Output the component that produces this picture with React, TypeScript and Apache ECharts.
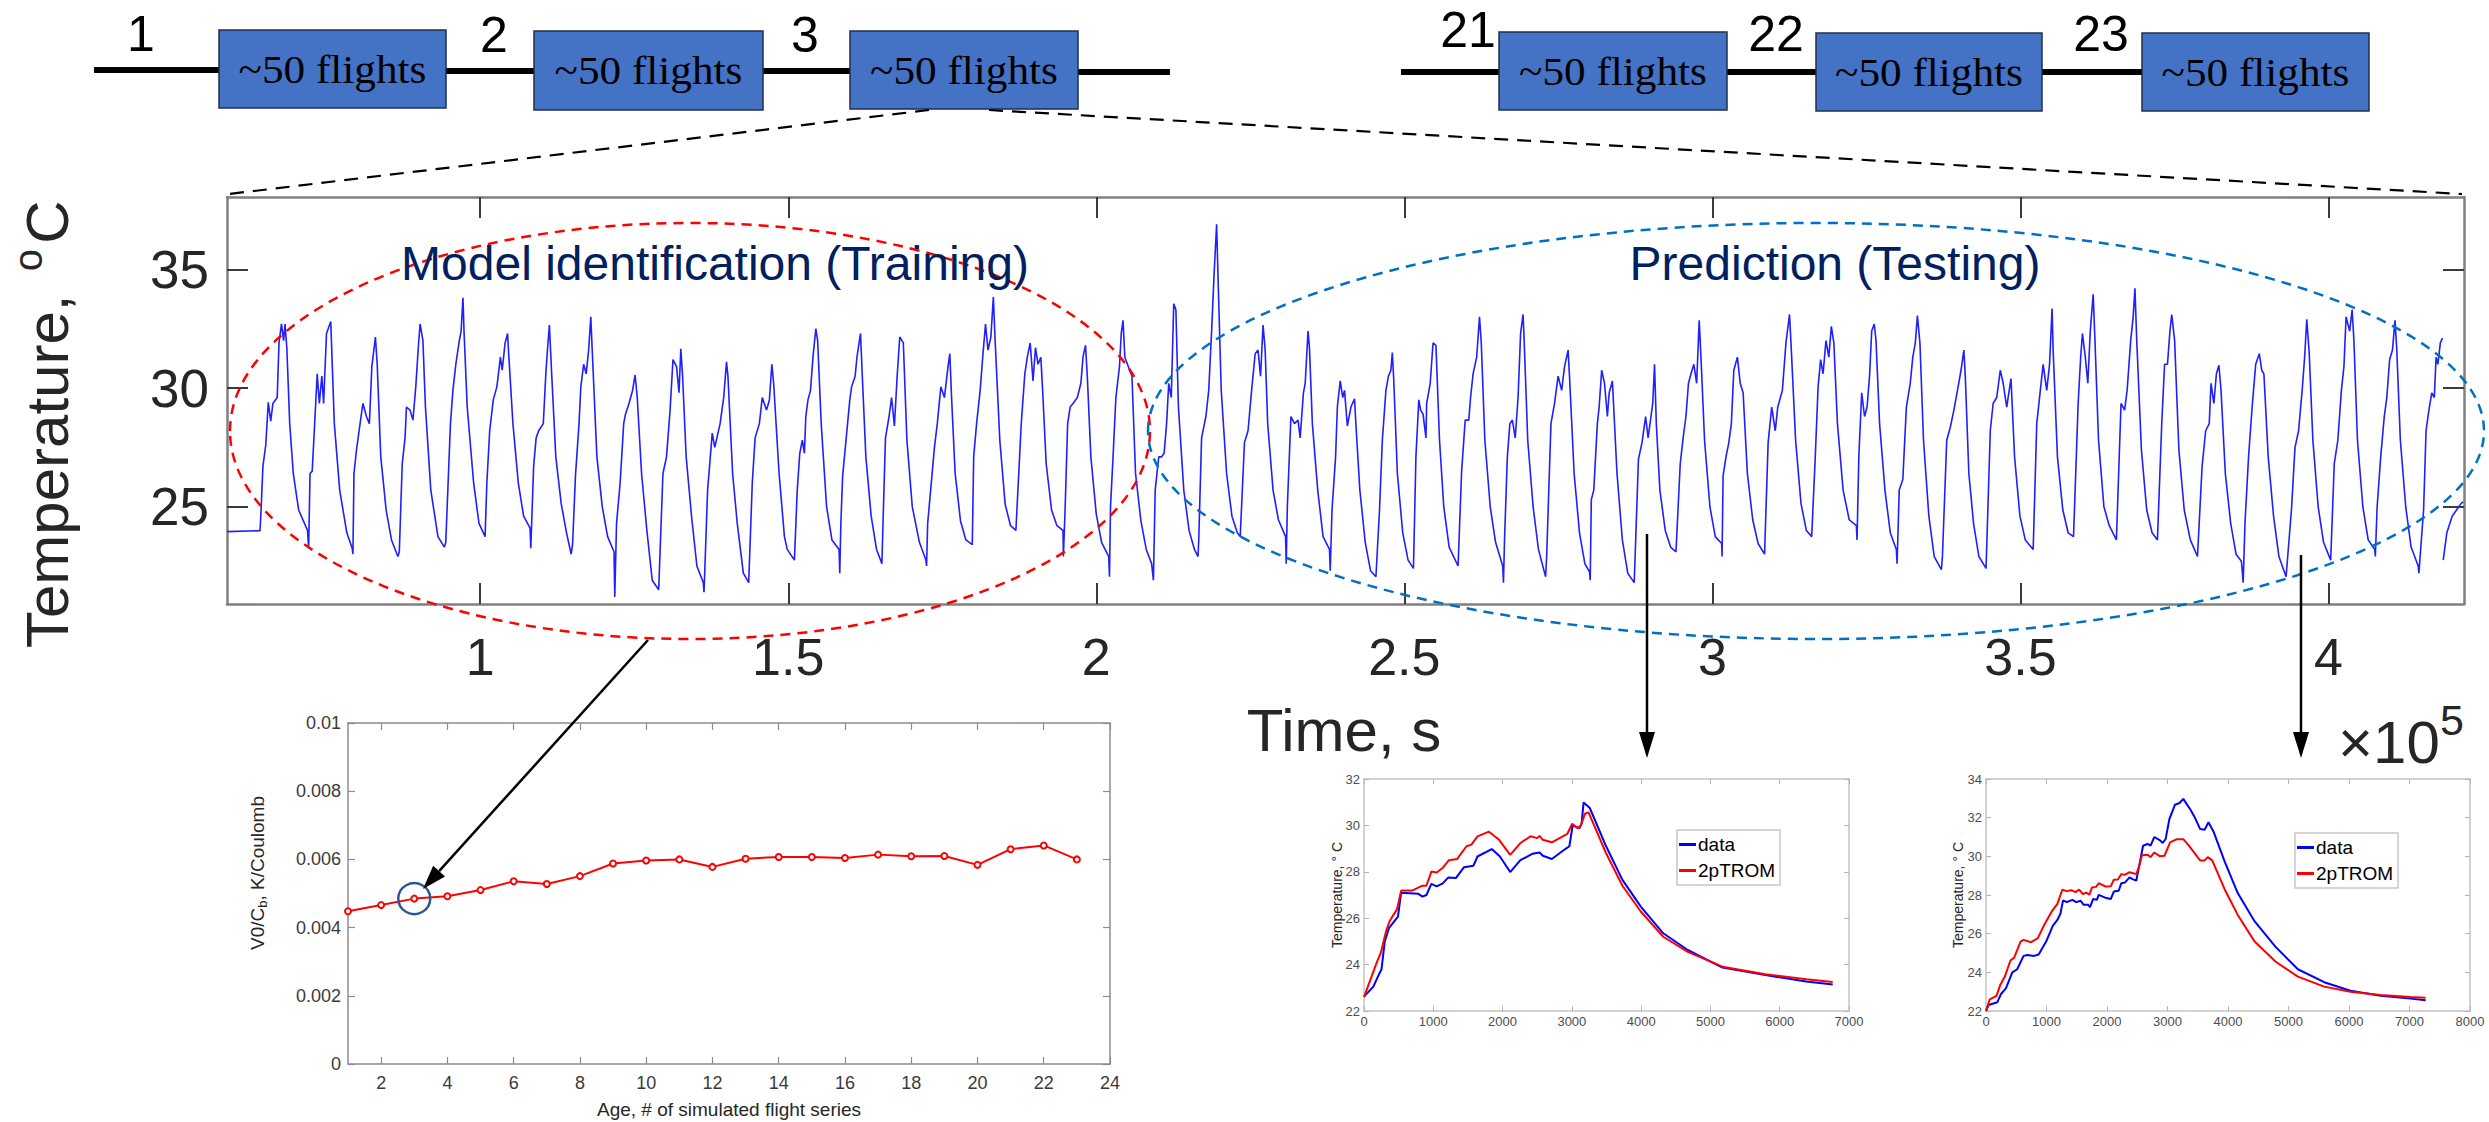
import React, { useEffect, useRef } from 'react';
import * as echarts from 'echarts';

const SANS = '"Liberation Sans", Arial, Helvetica, sans-serif';
const SERIF = '"Liberation Serif", "Times New Roman", serif';

// ---- main temperature record (time in 1e5 s, temperature in °C) ----
const MAIN_TEMP: [number, number][] = [
  [0.5893,23.95],[0.6426,23.99],[0.6444,24.9],[0.6473,26.7],[0.6519,27.6],[0.6560,29.4],[0.6600,28.6],[0.6635,29.35],[0.6705,29.6],[0.6734,31.9],[0.6774,32.7],[0.6809,32.0],[0.6832,32.7],[0.6861,31.7],[0.6908,28.5],[0.6966,26.4],[0.7053,24.86],[0.7197,24.0],
  [0.7215,23.25],[0.7238,26.4],[0.7273,26.5],[0.7313,28.5],[0.7354,30.6],[0.7389,29.35],[0.7429,30.5],[0.7458,29.35],[0.7505,32.3],[0.7574,32.8],[0.7632,28.5],[0.7719,25.7],[0.7835,23.9],[0.7922,23.25],[0.7934,23.0],
  [0.7951,26.4],[0.7992,27.4],[0.8050,28.5],[0.8096,29.35],[0.8154,28.8],[0.8201,28.5],[0.8241,30.9],[0.8299,32.15],[0.8328,31.0],[0.8386,27.1],[0.8473,24.86],[0.8560,23.6],[0.8664,22.9],
  [0.8687,23.1],[0.8734,26.8],[0.8780,27.9],[0.8803,29.2],[0.8861,29.07],[0.8908,28.65],[0.8954,30.05],[0.8995,31.7],[0.9024,32.7],[0.9070,32.0],[0.9111,29.2],[0.9198,25.7],[0.9314,23.74],[0.9418,23.3],
  [0.9441,23.5],[0.9517,28.5],[0.9557,29.9],[0.9604,31.0],[0.9661,32.0],[0.9690,32.4],[0.9720,33.8],[0.9737,32.4],[0.9789,29.2],[0.9893,26.0],[0.9980,24.3],[1.0079,23.74],
  [1.0108,26.0],[1.0154,28.2],[1.0212,29.5],[1.0270,30.05],[1.0328,31.3],[1.0357,30.75],[1.0404,31.9],[1.0444,32.3],[1.0462,31.45],[1.0531,28.5],[1.0618,26.0],[1.0705,24.6],[1.0809,24.1],
  [1.0821,23.25],[1.0867,26.7],[1.0908,27.9],[1.0949,28.2],[1.1024,28.5],[1.1065,30.6],[1.1094,31.7],[1.1123,32.65],[1.1157,30.75],[1.1227,27.1],[1.1314,25.14],[1.1401,23.9],[1.1476,23.0],
  [1.1499,23.4],[1.1546,26.3],[1.1604,28.5],[1.1633,30.05],[1.1679,31.0],[1.1720,30.6],[1.1760,31.6],[1.1795,33.0],[1.1818,31.6],[1.1894,27.1],[1.1981,25.0],[1.2068,23.74],[1.2172,23.1],
  [1.2184,21.2],[1.2213,24.3],[1.2271,26.0],[1.2329,28.5],[1.2358,28.9],[1.2415,29.35],[1.2473,29.9],[1.2514,30.55],[1.2549,29.6],[1.2619,26.4],[1.2705,24.0],[1.2792,21.9],[1.2897,21.5],
  [1.2966,26.4],[1.3024,27.1],[1.3082,29.07],[1.3129,31.2],[1.3187,30.9],[1.3227,29.8],[1.3256,31.65],[1.3285,30.5],[1.3343,27.1],[1.3430,24.6],[1.3517,22.5],[1.3621,21.8],
  [1.3633,21.4],[1.3691,25.7],[1.3766,28.1],[1.3807,27.5],[1.3894,28.5],[1.3952,29.6],[1.3998,31.1],[1.4021,30.5],[1.4097,26.4],[1.4172,24.3],[1.4271,22.2],[1.4358,21.8],
  [1.4416,26.0],[1.4462,27.9],[1.4531,28.5],[1.4578,29.6],[1.4647,29.07],[1.4694,29.5],[1.4734,31.0],[1.4763,30.2],[1.4851,26.4],[1.4938,23.74],[1.4984,23.2],[1.5100,22.75],
  [1.5146,25.7],[1.5187,27.25],[1.5228,27.8],[1.5262,27.25],[1.5285,28.8],[1.5320,29.5],[1.5361,29.9],[1.5401,31.3],[1.5448,32.5],[1.5477,32.0],[1.5535,28.5],[1.5622,25.0],[1.5709,23.6],[1.5825,23.2],[1.5836,22.2],
  [1.5854,24.3],[1.5883,26.3],[1.5941,27.9],[1.5999,29.5],[1.6028,30.05],[1.6086,30.5],[1.6115,31.3],[1.6173,32.3],[1.6202,30.5],[1.6260,27.1],[1.6346,24.6],[1.6433,23.2],[1.6520,22.6],
  [1.6538,24.3],[1.6578,27.9],[1.6636,28.8],[1.6677,29.6],[1.6723,28.4],[1.6770,30.6],[1.6810,32.15],[1.6868,31.9],[1.6926,27.8],[1.7013,25.0],[1.7129,23.5],[1.7234,22.75],[1.7245,22.5],
  [1.7263,24.3],[1.7332,26.3],[1.7373,27.5],[1.7419,28.5],[1.7477,30.05],[1.7535,29.6],[1.7593,30.9],[1.7622,31.45],[1.7651,29.6],[1.7709,26.4],[1.7796,24.4],[1.7883,23.6],[1.7987,23.4],
  [1.8010,27.1],[1.8057,28.5],[1.8115,29.9],[1.8161,31.45],[1.8202,32.7],[1.8242,31.6],[1.8289,32.15],[1.8329,33.84],[1.8358,32.0],[1.8434,27.8],[1.8521,25.1],[1.8608,24.2],[1.8695,24.0],
  [1.8782,28.5],[1.8840,30.6],[1.8880,31.3],[1.8927,31.9],[1.8973,30.3],[1.9013,31.7],[1.9054,31.0],[1.9100,31.3],[1.9129,29.9],[1.9187,26.8],[1.9274,24.86],[1.9361,24.2],[1.9460,24.0],[1.9466,22.9],
  [1.9495,25.0],[1.9535,28.5],[1.9576,29.2],[1.9622,29.35],[1.9692,29.6],[1.9750,30.2],[1.9784,31.3],[1.9825,31.8],[1.9854,30.5],[1.9912,27.1],[1.9999,24.7],[2.0086,23.5],[2.0202,22.9],[2.0214,22.05],
  [2.0231,25.0],[2.0272,27.1],[2.0318,29.6],[2.0376,30.9],[2.0405,32.3],[2.0434,32.85],[2.0463,31.3],[2.0521,30.9],[2.0579,30.5],[2.0637,26.4],[2.0724,24.4],[2.0811,23.2],[2.0898,22.6],[2.0927,21.9],
  [2.0956,25.7],[2.1014,27.1],[2.1060,27.1],[2.1101,27.25],[2.1141,28.5],[2.1176,30.2],[2.1217,29.6],[2.1257,33.55],[2.1292,33.3],[2.1333,29.2],[2.1420,25.7],[2.1506,24.0],[2.1593,23.2],[2.1651,22.9],
  [2.1663,23.6],[2.1709,27.9],[2.1779,28.8],[2.1825,29.9],[2.1872,32.4],[2.1912,34.8],[2.1953,36.9],[2.1982,34.1],[2.2028,29.9],[2.2115,26.4],[2.2202,24.6],[2.2289,23.9],[2.2336,23.74],
  [2.2405,27.7],[2.2463,28.2],[2.2521,29.9],[2.2579,31.45],[2.2625,31.6],[2.2666,30.5],[2.2707,32.65],[2.2741,31.6],[2.2782,28.5],[2.2869,25.7],[2.2956,24.45],[2.3072,23.74],[2.3083,22.6],
  [2.3101,25.0],[2.3159,28.8],[2.3217,28.5],[2.3275,28.65],[2.3309,27.9],[2.3362,29.8],[2.3391,30.2],[2.3437,32.4],[2.3460,31.7],[2.3507,28.5],[2.3594,25.7],[2.3681,23.74],[2.3785,23.2],[2.3797,22.3],
  [2.3826,24.86],[2.3884,27.1],[2.3913,29.2],[2.3959,30.3],[2.4000,29.6],[2.4029,29.9],[2.4075,28.4],[2.4133,29.2],[2.4191,29.55],[2.4220,28.2],[2.4278,25.7],[2.4365,23.5],[2.4452,22.3],[2.4539,22.05],
  [2.4597,24.86],[2.4643,27.8],[2.4701,29.9],[2.4742,30.5],[2.4782,30.75],[2.4805,31.5],[2.4829,30.3],[2.4887,26.4],[2.4974,23.9],[2.5061,22.75],[2.5148,22.4],
  [2.5188,27.1],[2.5235,29.5],[2.5264,29.07],[2.5304,28.9],[2.5351,27.9],[2.5362,29.35],[2.5420,30.2],[2.5466,31.9],[2.5513,31.8],[2.5571,27.8],[2.5640,25.0],[2.5727,23.3],[2.5872,22.5],
  [2.5930,26.5],[2.5988,28.65],[2.6046,28.65],[2.6075,29.6],[2.6116,30.6],[2.6174,31.3],[2.6220,33.0],[2.6249,31.9],[2.6307,27.8],[2.6394,25.0],[2.6481,23.5],[2.6597,22.5],[2.6609,21.8],
  [2.6626,23.6],[2.6672,27.1],[2.6713,28.5],[2.6754,28.65],[2.6800,27.9],[2.6846,29.6],[2.6887,32.3],[2.6927,33.1],[2.6945,32.0],[2.7003,27.8],[2.7090,25.0],[2.7177,23.2],[2.7293,22.05],
  [2.7310,22.9],[2.7380,28.5],[2.7438,29.35],[2.7496,30.5],[2.7554,29.9],[2.7600,30.9],[2.7658,31.6],[2.7681,30.5],[2.7756,26.4],[2.7843,23.9],[2.7930,22.6],[2.8006,22.25],[2.8017,21.9],
  [2.8035,25.3],[2.8075,25.7],[2.8133,28.5],[2.8162,29.2],[2.8203,30.75],[2.8249,30.2],[2.8296,28.8],[2.8325,29.8],[2.8377,30.3],[2.8452,26.4],[2.8539,23.6],[2.8626,22.2],[2.8731,21.8],
  [2.8742,22.6],[2.8800,27.0],[2.8858,27.7],[2.8916,28.8],[2.8957,27.9],[2.9003,28.8],[2.9032,29.35],[2.9061,31.0],[2.9090,28.5],[2.9148,25.7],[2.9235,24.0],[2.9322,23.3],[2.9409,23.1],
  [2.9478,26.8],[2.9525,27.9],[2.9571,28.8],[2.9612,30.2],[2.9653,30.6],[2.9699,31.0],[2.9745,30.2],[2.9786,32.85],[2.9815,31.3],[2.9873,27.8],[2.9960,25.0],[3.0047,23.74],[3.0151,23.45],[3.0157,22.9],
  [3.0174,26.3],[3.0221,27.1],[3.0267,27.7],[3.0308,28.5],[3.0348,30.75],[3.0406,31.3],[3.0452,30.2],[3.0499,29.8],[3.0568,26.4],[3.0655,24.45],[3.0742,23.45],[3.0847,23.0],
  [3.0905,27.7],[3.0963,29.2],[3.1021,28.2],[3.1061,29.2],[3.1136,29.9],[3.1194,31.9],[3.1252,33.1],[3.1276,31.9],[3.1351,27.8],[3.1438,25.14],[3.1525,24.0],[3.1612,23.74],
  [3.1670,27.1],[3.1716,30.05],[3.1757,31.2],[3.1797,30.6],[3.1844,32.0],[3.1890,31.3],[3.1931,32.6],[3.1972,31.9],[3.2030,28.5],[3.2122,25.7],[3.2221,24.45],[3.2337,24.2],[3.2348,23.6],
  [3.2377,27.1],[3.2424,29.8],[3.2470,28.8],[3.2511,29.2],[3.2551,30.5],[3.2586,32.4],[3.2627,32.7],[3.2656,32.0],[3.2714,28.5],[3.2801,25.7],[3.2888,23.9],[3.2986,23.2],[3.2998,22.6],
  [3.3033,25.7],[3.3091,26.15],[3.3149,29.2],[3.3212,30.2],[3.3253,31.3],[3.3294,31.9],[3.3328,33.05],[3.3369,31.9],[3.3427,27.8],[3.3514,24.6],[3.3601,22.9],[3.3717,22.35],
  [3.3734,22.9],[3.3804,27.8],[3.3862,28.35],[3.3920,29.07],[3.3978,29.9],[3.4036,30.75],[3.4082,31.6],[3.4105,30.5],[3.4163,26.4],[3.4239,24.3],[3.4326,22.9],[3.4442,22.4],
  [3.4511,28.2],[3.4557,29.35],[3.4615,29.6],[3.4673,30.75],[3.4720,30.2],[3.4778,29.2],[3.4818,29.9],[3.4847,30.4],[3.4905,27.1],[3.4992,24.6],[3.5079,23.6],[3.5207,23.2],
  [3.5265,28.5],[3.5323,29.9],[3.5369,31.0],[3.5427,29.9],[3.5473,31.0],[3.5514,33.35],[3.5531,31.6],[3.5601,27.1],[3.5688,24.86],[3.5775,23.9],[3.5862,23.74],
  [3.5937,29.35],[3.5978,31.3],[3.6007,32.3],[3.6053,31.3],[3.6094,30.2],[3.6134,32.4],[3.6181,33.95],[3.6210,32.0],[3.6268,27.8],[3.6355,25.0],[3.6442,24.2],[3.6558,23.6],
  [3.6633,29.35],[3.6691,29.07],[3.6732,29.9],[3.6790,32.0],[3.6830,33.0],[3.6859,34.2],[3.6888,32.0],[3.6964,27.4],[3.7050,24.86],[3.7137,23.9],[3.7224,23.6],
  [3.7294,28.5],[3.7340,31.0],[3.7387,31.0],[3.7427,32.4],[3.7456,33.1],[3.7503,32.0],[3.7572,27.4],[3.7659,24.86],[3.7758,23.6],[3.7874,22.9],
  [3.7949,26.7],[3.8007,28.2],[3.8065,28.5],[3.8094,30.2],[3.8140,29.35],[3.8181,30.6],[3.8222,30.96],[3.8256,29.9],[3.8326,26.4],[3.8413,24.3],[3.8500,23.0],[3.8587,22.7],[3.8616,21.8],
  [3.8645,24.3],[3.8703,27.1],[3.8761,29.2],[3.8819,31.0],[3.8877,31.45],[3.8917,30.75],[3.8952,30.6],[3.9022,27.1],[3.9109,24.6],[3.9196,22.9],[3.9312,22.05],
  [3.9399,24.86],[3.9457,27.5],[3.9515,28.2],[3.9573,29.9],[3.9613,31.3],[3.9648,32.9],[3.9688,31.45],[3.9747,27.8],[3.9833,25.0],[3.9920,23.5],[4.0036,22.75],
  [4.0094,26.8],[4.0152,27.8],[4.0210,29.9],[4.0251,30.9],[4.0286,33.0],[4.0344,32.4],[4.0384,33.3],[4.0413,32.0],[4.0471,27.8],[4.0558,25.0],[4.0645,23.6],[4.0750,23.2],[4.0761,22.9],
  [4.0790,25.0],[4.0848,27.1],[4.0906,28.8],[4.0947,29.6],[4.0993,31.2],[4.1039,31.6],[4.1080,32.85],[4.1109,31.6],[4.1167,27.8],[4.1254,25.0],[4.1341,23.3],[4.1457,22.5],[4.1468,22.2],
  [4.1544,24.86],[4.1584,28.2],[4.1630,29.07],[4.1677,29.8],[4.1718,29.6],[4.1747,31.3],[4.1776,31.0],[4.1816,31.9],[4.1851,32.1],
];
const MAIN_TEMP_TAIL: [number, number][] = [
  [4.1863,22.75],[4.1921,23.9],[4.2008,24.6],[4.2153,25.14],[4.2188,25.2],
];
const MAIN_X_TICKS = [1, 1.5, 2, 2.5, 3, 3.5, 4];
const MAIN_Y_TICKS = [25, 30, 35];

// ---- V0/Cb vs age ----
const AGE = [1,2,3,4,5,6,7,8,9,10,11,12,13,14,15,16,17,18,19,20,21,22,23];
const V0_CB = [0.00448,0.00466,0.00485,0.00492,0.0051,0.00536,0.00528,0.00551,0.00588,0.00597,0.006,0.00578,0.00602,0.00607,0.00607,0.00604,0.00614,0.00609,0.0061,0.00584,0.0063,0.00641,0.006];
const AGE_TICKS = [2,4,6,8,10,12,14,16,18,20,22,24];

// ---- flight A (time s, temperature °C) ----
const FLIGHT_A_DATA: [number, number][] = [
  [0,22.62],[135,23.05],[224,23.63],[253,23.8],[300,25.0],[360,25.57],[490,26.07],[536,27.1],[784,27.05],[843,26.93],[901,27.0],[972,27.48],[1049,27.37],[1137,27.5],[1214,27.75],[1326,27.73],[1444,28.2],[1579,28.26],[1638,28.66],[1844,28.98],[1962,28.66],[2110,27.99],[2257,28.5],[2434,28.78],[2534,28.83],[2581,28.69],[2711,28.55],[2905,28.98],[2964,29.1],[3011,29.99],[3111,29.88],[3141,30.1],[3170,30.99],[3259,30.75],[3494,29.1],[3730,27.65],[3995,26.5],[4319,25.35],[4673,24.63],[5174,23.87],[5793,23.55],[6382,23.27],[6765,23.14],
];
const FLIGHT_A_TROM: [number, number][] = [
  [0,22.6],[194,24.17],[242,24.5],[324,25.5],[371,25.88],[477,26.39],[536,27.19],[695,27.19],[843,27.4],[900,27.4],[972,28.01],[1049,27.97],[1130,28.15],[1226,28.5],[1343,28.55],[1479,29.1],[1550,29.17],[1638,29.53],[1803,29.73],[1950,29.38],[2110,28.73],[2257,29.24],[2404,29.53],[2500,29.45],[2534,29.55],[2581,29.38],[2711,29.27],[2935,29.64],[3005,30.07],[3082,29.88],[3130,30.0],[3188,30.5],[3241,30.56],[3494,28.8],[3730,27.4],[3995,26.29],[4319,25.2],[4673,24.55],[5174,23.91],[5793,23.58],[6382,23.37],[6765,23.25],
];
// ---- flight B ----
const FLIGHT_B_DATA: [number, number][] = [
  [0,22.0],[43,22.31],[186,22.45],[248,22.88],[329,23.17],[435,24.0],[516,24.16],[621,24.85],[683,24.9],[795,24.85],[870,24.92],[994,25.59],[1106,26.42],[1180,26.71],[1230,27.03],[1273,27.72],[1335,27.63],[1429,27.75],[1491,27.63],[1565,27.7],[1615,27.49],[1689,27.49],[1720,27.37],[1770,27.79],[1832,27.75],[1863,28.01],[1988,27.84],[2062,27.79],[2112,28.18],[2193,28.22],[2236,28.61],[2298,28.65],[2373,28.91],[2422,28.82],[2484,28.74],[2596,30.55],[2671,30.64],[2720,30.55],[2783,31.0],[2876,30.83],[2919,30.69],[2969,30.89],[3031,31.93],[3124,32.67],[3199,32.76],[3261,32.97],[3385,32.38],[3447,32.04],[3540,31.41],[3615,31.38],[3677,31.76],[3758,31.3],[3944,29.74],[4161,28.1],[4441,26.63],[4783,25.33],[5155,24.16],[5590,23.49],[6025,23.05],[6522,22.79],[7019,22.64],[7267,22.55],
];
const FLIGHT_B_TROM: [number, number][] = [
  [0,22.0],[62,22.6],[174,22.78],[236,23.35],[311,23.78],[404,24.61],[466,24.76],[571,25.59],[621,25.68],[745,25.56],[857,25.77],[963,26.46],[1087,27.15],[1180,27.54],[1261,28.27],[1335,28.2],[1410,28.25],[1480,28.15],[1540,28.28],[1602,28.05],[1660,28.12],[1708,28.01],[1752,28.39],[1820,28.42],[1863,28.61],[1975,28.44],[2062,28.45],[2112,28.79],[2180,28.8],[2236,29.08],[2300,29.05],[2373,29.18],[2484,29.08],[2534,29.51],[2578,30.05],[2671,30.08],[2720,29.96],[2783,30.2],[2876,30.0],[2950,30.03],[3043,30.72],[3155,30.89],[3261,30.89],[3354,30.55],[3447,30.17],[3540,29.79],[3615,29.79],[3665,29.96],[3739,29.79],[3944,28.3],[4161,26.97],[4441,25.59],[4783,24.56],[5155,23.78],[5590,23.26],[6025,23.0],[6522,22.83],[7019,22.72],[7267,22.69],
];

const FLOW_NUMBERS = ['1', '2', '3', '21', '22', '23'];
const FLOW_BOX_TEXT = '~50 flights';
const SERIES_NAMES = ['data', '2pTROM'];

type AxStyle = {
  lineColor: string; lineWidth: number; tickColor: string; tickLen: number; tickWidth: number;
  labelColor: string; fontSize: number; margin: number;
};

function makeAxis(dim: 'x' | 'y', grid: number, min: number, max: number, st: AxStyle, mirror: boolean,
  ticks?: number[], interval?: number) {
  const ax: any = {
    type: 'value', gridIndex: grid, min, max,
    position: dim === 'x' ? (mirror ? 'top' : 'bottom') : (mirror ? 'right' : 'left'),
    axisLine: { show: true, onZero: false, lineStyle: { color: st.lineColor, width: st.lineWidth } },
    axisTick: { show: true, inside: true, length: st.tickLen, lineStyle: { color: st.tickColor, width: st.tickWidth } },
    axisLabel: {
      show: !mirror, color: st.labelColor, fontSize: st.fontSize, fontFamily: SANS, margin: st.margin, lineHeight: st.fontSize,
      formatter: (v: number) => String(Math.round(v * 100000) / 100000),
    },
    splitLine: { show: false },
  };
  if (ticks) { ax.axisTick.customValues = ticks; ax.axisLabel.customValues = ticks; }
  if (interval !== undefined) ax.interval = interval;
  return ax;
}

function arrow(x1: number, y1: number, x2: number, y2: number, headLen: number, headW: number) {
  const a = Math.atan2(y2 - y1, x2 - x1);
  const bx = x2 - headLen * Math.cos(a), by = y2 - headLen * Math.sin(a);
  const px = -Math.sin(a) * headW, py = Math.cos(a) * headW;
  return [
    { type: 'line', shape: { x1, y1, x2: bx, y2: by }, style: { stroke: '#000', lineWidth: 2.5 }, z: 20 },
    { type: 'polygon', shape: { points: [[x2, y2], [bx + px, by + py], [bx - px, by - py]] }, style: { fill: '#000' }, z: 20 },
  ];
}

export default function App() {
  const ref = useRef<HTMLDivElement>(null);
  useEffect(() => {
    if (!ref.current) return;
    const chart = echarts.init(ref.current, undefined, { renderer: 'svg' });

    const mainSt: AxStyle = { lineColor: '#808080', lineWidth: 2.5, tickColor: '#3a3a3a', tickLen: 21, tickWidth: 2, labelColor: '#262626', fontSize: 53, margin: 18 };
    const mainStX: AxStyle = { ...mainSt, fontSize: 52, margin: 27 };
    const ageSt: AxStyle = { lineColor: '#8c8c8c', lineWidth: 1.5, tickColor: '#8c8c8c', tickLen: 7, tickWidth: 1.2, labelColor: '#3a3a3a', fontSize: 18, margin: 7 };
    const ageStX: AxStyle = { ...ageSt, margin: 10 };
    const flSt: AxStyle = { lineColor: '#c4c4c4', lineWidth: 1.5, tickColor: '#b4b4b4', tickLen: 5, tickWidth: 1, labelColor: '#4d4d4d', fontSize: 13, margin: 4 };

    const xAxis = [
      makeAxis('x', 0, 0.589, 4.22, mainStX, false, MAIN_X_TICKS),
      makeAxis('x', 0, 0.589, 4.22, mainStX, true, MAIN_X_TICKS),
      makeAxis('x', 1, 1, 24, ageStX, false, AGE_TICKS),
      makeAxis('x', 1, 1, 24, ageStX, true, AGE_TICKS),
      makeAxis('x', 2, 0, 7000, flSt, false, undefined, 1000),
      makeAxis('x', 2, 0, 7000, flSt, true, undefined, 1000),
      makeAxis('x', 3, 0, 8000, flSt, false, undefined, 1000),
      makeAxis('x', 3, 0, 8000, flSt, true, undefined, 1000),
    ];
    const yAxis = [
      makeAxis('y', 0, 20.9, 38.05, mainSt, false, MAIN_Y_TICKS),
      makeAxis('y', 0, 20.9, 38.05, mainSt, true, MAIN_Y_TICKS),
      makeAxis('y', 1, 0, 0.01, ageSt, false, undefined, 0.002),
      makeAxis('y', 1, 0, 0.01, ageSt, true, undefined, 0.002),
      makeAxis('y', 2, 22, 32, flSt, false, undefined, 2),
      makeAxis('y', 2, 22, 32, flSt, true, undefined, 2),
      makeAxis('y', 3, 22, 34, flSt, false, undefined, 2),
      makeAxis('y', 3, 22, 34, flSt, true, undefined, 2),
    ];

    const lineCommon = { type: 'line', showSymbol: false, symbol: 'none', smooth: false, silent: true };

    const legendCommon = {
      orient: 'vertical', backgroundColor: '#fff', borderColor: '#c8c8c8', borderWidth: 1.5,
      padding: [3, 5, 3, 2], itemGap: 3, itemWidth: 17, itemHeight: 3, icon: 'rect',
      textStyle: { fontSize: 19, fontFamily: SANS, color: '#000', lineHeight: 23, padding: [0, 0, 0, -3] },
      data: SERIES_NAMES, selectedMode: false,
    };

    // flow diagram geometry
    const flowLines = [[94, 219, 70], [446, 534, 71], [763, 850, 71], [1078, 1170, 72], [1401, 1499, 72], [1727, 1816, 72], [2042, 2142, 72]];
    const boxes = [[219, 30, 227, 78], [534, 31, 229, 79], [850, 31, 228, 78], [1499, 32, 228, 78], [1816, 33, 226, 78], [2142, 33, 227, 78]];
    const numPos = [[141, 34], [494, 35], [805, 35], [1468, 30], [1776, 34], [2101, 34]];

    const g: any[] = [];
    flowLines.forEach(([a, b, y]) => g.push({ type: 'line', shape: { x1: a, y1: y, x2: b, y2: y }, style: { stroke: '#000', lineWidth: 6 } }));
    boxes.forEach(([x, y, w, h]) => {
      g.push({ type: 'rect', shape: { x, y, width: w, height: h }, style: { fill: '#4472C4', stroke: '#1f2f4f', lineWidth: 1.5 } });
      g.push({ type: 'text', x: x + w / 2, y: y + 40, scaleX: 1.08, style: { text: FLOW_BOX_TEXT, fontFamily: SERIF, fontSize: 40, fill: '#000', align: 'center', verticalAlign: 'middle' } });
    });
    FLOW_NUMBERS.forEach((t, i) => g.push({ type: 'text', x: numPos[i][0], y: numPos[i][1], style: { text: t, fontFamily: SANS, fontSize: 50, fill: '#000', align: 'center', verticalAlign: 'middle' } }));

    // dashed projection lines
    g.push({ type: 'line', shape: { x1: 929, y1: 110, x2: 229, y2: 194 }, style: { stroke: '#000', lineWidth: 2.2, lineDash: [14, 9] } });
    g.push({ type: 'line', shape: { x1: 989, y1: 110, x2: 2462, y2: 194 }, style: { stroke: '#000', lineWidth: 2.2, lineDash: [14, 9] } });

    // ellipses
    g.push({ type: 'ellipse', shape: { cx: 690, cy: 431, rx: 460, ry: 208 }, style: { fill: 'none', stroke: '#ff0000', lineWidth: 2.5, lineDash: [10, 7] }, z: 15 });
    g.push({ type: 'ellipse', shape: { cx: 1816, cy: 431, rx: 668, ry: 208 }, style: { fill: 'none', stroke: '#0070C0', lineWidth: 2.5, lineDash: [10, 7] }, z: 15 });

    // annotations in main chart
    g.push({ type: 'text', x: 715, y: 263, style: { text: 'Model identification (Training)', fontFamily: SANS, fontSize: 48, fill: '#002060', align: 'center', verticalAlign: 'middle' }, z: 16 });
    g.push({ type: 'text', x: 1835, y: 263, style: { text: 'Prediction (Testing)', fontFamily: SANS, fontSize: 48, fill: '#002060', align: 'center', verticalAlign: 'middle' }, z: 16 });

    // main axis titles
    g.push({ type: 'text', x: 47, y: 648, rotation: Math.PI / 2, style: { text: 'Temperature,', fontFamily: SANS, fontSize: 60, fill: '#262626', align: 'left', verticalAlign: 'middle' } });
    g.push({ type: 'text', x: 28, y: 260, rotation: Math.PI / 2, style: { text: 'o', fontFamily: SANS, fontSize: 40, fill: '#262626', align: 'center', verticalAlign: 'middle' } });
    g.push({ type: 'text', x: 47, y: 222, rotation: Math.PI / 2, style: { text: 'C', fontFamily: SANS, fontSize: 60, fill: '#262626', align: 'center', verticalAlign: 'middle' } });
    g.push({ type: 'text', x: 1344, y: 730, style: { text: 'Time, s', fontFamily: SANS, fontSize: 60, fill: '#262626', align: 'center', verticalAlign: 'middle' } });
    g.push({ type: 'text', x: 2338, y: 742, style: { text: '×10', fontFamily: SANS, fontSize: 60, fill: '#262626', align: 'left', verticalAlign: 'middle' } });
    g.push({ type: 'text', x: 2440, y: 720, style: { text: '5', fontFamily: SANS, fontSize: 43, fill: '#262626', align: 'left', verticalAlign: 'middle' } });

    // small chart titles
    g.push({ type: 'text', x: 257, y: 873, rotation: Math.PI / 2, style: { text: '{a|V0/C}{s|b}{a|, K/Coulomb}', fontFamily: SANS, fill: '#262626', align: 'center', verticalAlign: 'middle',
      rich: { a: { fontSize: 19, fontFamily: SANS, fill: '#262626', lineHeight: 24, verticalAlign: 'middle' }, s: { fontSize: 13, fontFamily: SANS, fill: '#262626', lineHeight: 13, verticalAlign: 'bottom' } } } });
    g.push({ type: 'text', x: 729, y: 1109, style: { text: 'Age, # of simulated flight series', fontFamily: SANS, fontSize: 19, fill: '#262626', align: 'center', verticalAlign: 'middle' } });
    g.push({ type: 'text', x: 1337, y: 895, rotation: Math.PI / 2, style: { text: 'Temperature, ° C', fontFamily: SANS, fontSize: 14, fill: '#262626', align: 'center', verticalAlign: 'middle' } });
    g.push({ type: 'text', x: 1958, y: 895, rotation: Math.PI / 2, style: { text: 'Temperature, ° C', fontFamily: SANS, fontSize: 14, fill: '#262626', align: 'center', verticalAlign: 'middle' } });

    // arrows
    g.push(...arrow(648, 640, 423, 889, 24, 8));
    g.push(...arrow(1647, 534, 1647, 758, 26, 8));
    g.push(...arrow(2301, 555, 2301, 758, 26, 8));

    const option: any = {
      animation: false,
      backgroundColor: '#ffffff',
      grid: [
        { left: 227, top: 197, width: 2237, height: 407 },
        { left: 348, top: 723, width: 762, height: 341 },
        { left: 1364, top: 779, width: 485, height: 232 },
        { left: 1986, top: 779, width: 484, height: 232 },
      ],
      xAxis, yAxis,
      legend: [
        { ...legendCommon, left: 1677, top: 830 },
        { ...legendCommon, left: 2295, top: 833 },
      ],
      series: [
        { ...lineCommon, name: 'main', xAxisIndex: 0, yAxisIndex: 0, data: MAIN_TEMP, lineStyle: { color: '#1f1fff', width: 1.6 } },
        { ...lineCommon, name: 'main', xAxisIndex: 0, yAxisIndex: 0, data: MAIN_TEMP_TAIL, lineStyle: { color: '#1f1fff', width: 1.6 } },
        {
          type: 'line', name: 'V0/Cb', xAxisIndex: 2, yAxisIndex: 2, data: AGE.map((a, i) => [a, V0_CB[i]]),
          symbol: 'emptyCircle', symbolSize: 6, showSymbol: true, silent: true,
          lineStyle: { color: '#ff0000', width: 2 }, itemStyle: { color: '#ff0000', borderColor: '#ff0000', borderWidth: 1.5 },
          markPoint: {
            silent: true, symbol: 'circle', symbolSize: [32, 31], label: { show: false },
            itemStyle: { color: 'rgba(0,0,0,0)', borderColor: '#2F5597', borderWidth: 2.5 },
            data: [{ coord: [AGE[2], V0_CB[2]] }],
          },
        },
        { ...lineCommon, name: 'data', xAxisIndex: 4, yAxisIndex: 4, data: FLIGHT_A_DATA, color: '#0000ff', lineStyle: { color: '#0000ff', width: 2 } },
        { ...lineCommon, name: '2pTROM', xAxisIndex: 4, yAxisIndex: 4, data: FLIGHT_A_TROM, color: '#ff0000', lineStyle: { color: '#ff0000', width: 2 } },
        { ...lineCommon, name: 'data', xAxisIndex: 6, yAxisIndex: 6, data: FLIGHT_B_DATA, color: '#0000ff', lineStyle: { color: '#0000ff', width: 2 } },
        { ...lineCommon, name: '2pTROM', xAxisIndex: 6, yAxisIndex: 6, data: FLIGHT_B_TROM, color: '#ff0000', lineStyle: { color: '#ff0000', width: 2 } },
      ],
      graphic: { elements: g },
    };
    chart.setOption(option);
    return () => chart.dispose();
  }, []);

  return (
    <div style={{ position: 'absolute', left: 0, top: 0, width: 2489, height: 1122, background: '#fff' }}>
      <div ref={ref} style={{ width: 2489, height: 1122 }} />
    </div>
  );
}
